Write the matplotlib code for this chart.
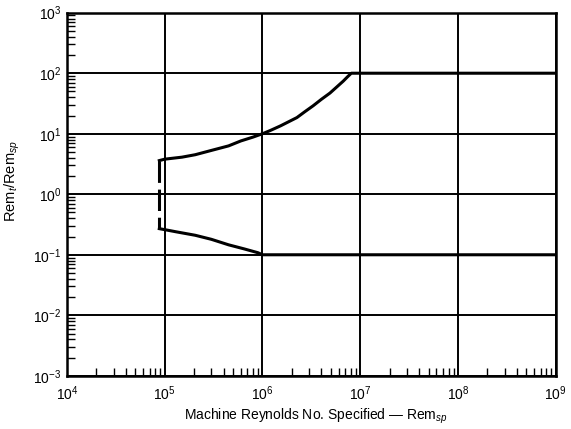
import matplotlib
import matplotlib.pyplot as plt
import numpy as np
from matplotlib.ticker import LogLocator, NullFormatter

matplotlib.use("Agg")

plt.rcParams["font.family"] = ["Liberation Sans", "DejaVu Sans"]
plt.rcParams["mathtext.fontset"] = "custom"
plt.rcParams["mathtext.rm"] = "Liberation Sans"
plt.rcParams["mathtext.it"] = "Liberation Sans:italic"

# ---------------------------------------------------------------------------
# Data
# ---------------------------------------------------------------------------
upper_x = [8.8e4, 1.0e5, 1.5e5, 2.05e5, 3.0e5, 4.5e5, 6.0e5, 8.0e5, 1.0e6,
           1.2e6, 1.53e6, 2.25e6, 2.7e6, 3.3e6, 4.0e6, 4.9e6, 5.8e6, 6.7e6,
           7.4e6, 8.1e6, 1.0e9]
upper_y = [3.6, 3.8, 4.1, 4.5, 5.3, 6.3, 7.6, 8.8, 10.0,
           11.3, 13.5, 18.5, 23.0, 29.0, 37.0, 47.0, 60.0, 74.0,
           87.0, 100.0, 100.0]

lower_x = [8.8e4, 1.0e5, 1.3e5, 2.05e5, 3.0e5, 4.5e5, 6.5e5, 9.0e5, 1.0e6, 1.0e9]
lower_y = [0.27, 0.26, 0.24, 0.21, 0.18, 0.146, 0.125, 0.108, 0.1, 0.1]

dash_x = [8.8e4, 8.8e4]
dash_y = [3.6, 0.27]

# ---------------------------------------------------------------------------
# Figure
# ---------------------------------------------------------------------------
fig = plt.figure(figsize=(5.71, 4.29), dpi=100)
ax = fig.add_axes([0.1173, 0.1240, 0.8560, 0.8464])

ax.plot(upper_x, upper_y, color="black", lw=2.2, solid_joinstyle="round")
ax.plot(lower_x, lower_y, color="black", lw=2.2, solid_joinstyle="round")
ax.plot(dash_x, dash_y, color="black", lw=2.2, dashes=(7, 2.2))

ax.set_xscale("log")
ax.set_yscale("log")
ax.set_xlim(1e4, 1e9)
ax.set_ylim(1e-3, 1e3)

ax.xaxis.set_major_locator(LogLocator(base=10, numticks=10))
ax.yaxis.set_major_locator(LogLocator(base=10, numticks=10))
ax.xaxis.set_minor_locator(LogLocator(base=10, subs=np.arange(2, 10), numticks=20))
ax.yaxis.set_minor_locator(LogLocator(base=10, subs=np.arange(2, 10), numticks=20))
ax.xaxis.set_minor_formatter(NullFormatter())
ax.yaxis.set_minor_formatter(NullFormatter())

ax.grid(True, which="major", color="black", lw=1.4)
ax.tick_params(which="major", length=0, labelsize=10)
ax.tick_params(axis="x", which="major", pad=6)
ax.tick_params(axis="y", which="major", pad=4)
ax.tick_params(which="minor", direction="in", length=6, width=1.0,
               top=False, right=False)
for s in ax.spines.values():
    s.set_linewidth(1.8)

ax.set_xlabel("Machine Reynolds No. Specified \u2014 Rem$_{sp}$", fontsize=10)
ax.set_ylabel("Rem$_t$/Rem$_{sp}$", fontsize=10.5)
ax.xaxis.set_label_coords(0.51, -0.085)
ax.yaxis.set_label_coords(-0.093, 0.536)

fig.savefig("out.png", dpi=100, facecolor="white")
